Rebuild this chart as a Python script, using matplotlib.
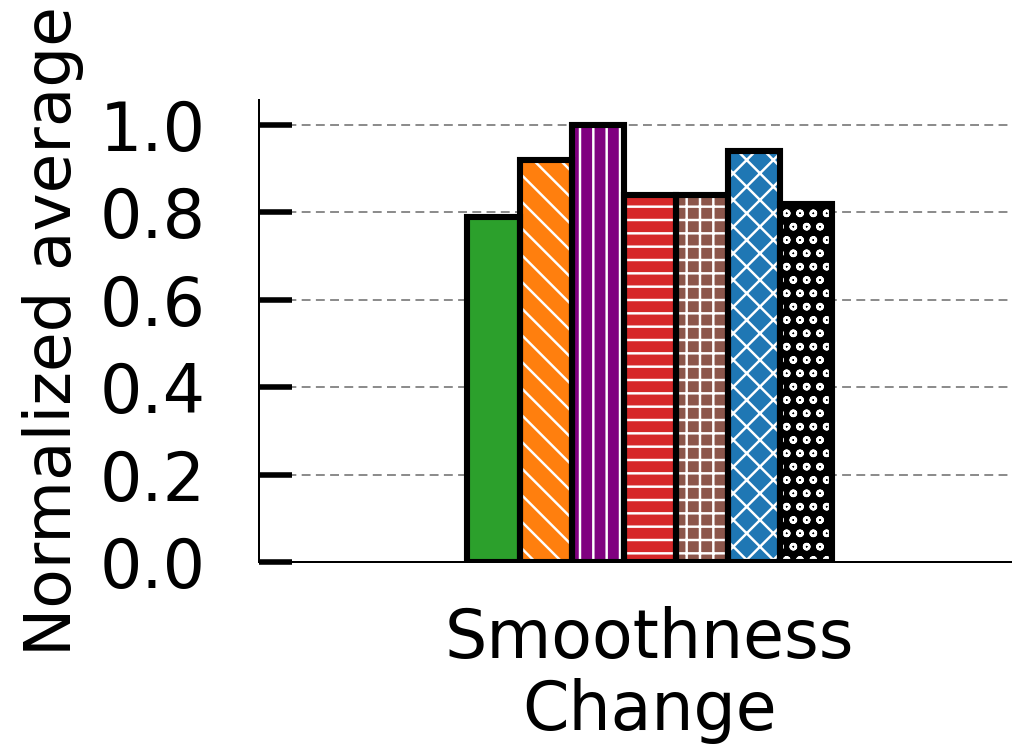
import matplotlib
matplotlib.use('Agg')
import matplotlib.pyplot as plt
import numpy as np

valores = [0.79, 0.92, 1.00, 0.84, 0.84, 0.94, 0.82]
colores = ['#2ca02c', '#ff7f0e', 'purple', '#d62728', '#8c564b', '#1f77b4', 'black']
tramas = ['', '\\', '|', '-', '+', 'x', 'o']
categoria = 'Smoothness\nChange'
ANCHO = 0.1

plt.rcParams['hatch.linewidth'] = 2.2

fig = plt.figure(figsize=(1012/80, 752/80), dpi=80)
ax = fig.add_axes([259/1012, 190/752, (1012-259)/1012, 462/752])

n = len(valores)
posiciones = (np.arange(n) - (n - 1) / 2) * ANCHO
for x, v, c, h in zip(posiciones, valores, colores, tramas):
    # relleno con trama blanca, luego el contorno negro
    ax.bar(x, v, ANCHO, color=c, hatch=h, edgecolor='white', linewidth=0, zorder=3)
    ax.bar(x, v, ANCHO, fill=False, edgecolor='black', linewidth=5.5, zorder=4)

ax.set_xlim(-0.75, 0.695)
ax.set_ylim(0, 1.057)
ax.set_yticks(np.arange(0, 1.01, 0.2))
ax.set_yticklabels([f'{t:.1f}' for t in np.arange(0, 1.01, 0.2)])
ax.set_xticks([0])
ax.set_xticklabels([categoria], linespacing=1.1)

ax.yaxis.grid(True, linestyle=(0, (5, 3)), color='grey', linewidth=1.6, zorder=0)
ax.set_axisbelow(True)
for lado in ['top', 'right']:
    ax.spines[lado].set_visible(False)
for lado in ['left', 'bottom']:
    ax.spines[lado].set_linewidth(1.8)

ax.tick_params(axis='y', direction='in', length=30, width=5, labelsize=60, pad=48)
ax.tick_params(axis='x', length=0, labelsize=60, pad=40)
ax.set_ylabel('Normalized average', fontsize=58, labelpad=14)

fig.savefig('out.png', dpi=80)
